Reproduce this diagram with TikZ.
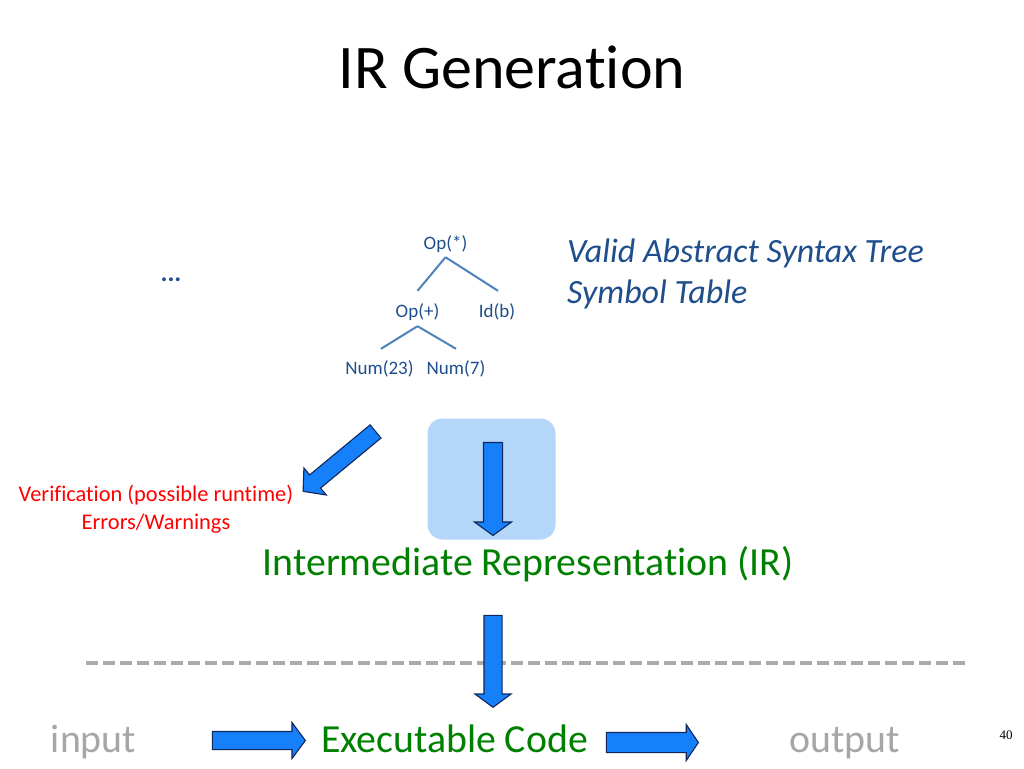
\documentclass[tikz,border=0pt]{standalone}
\usepackage{fontspec}
\setmainfont{Carlito}[Ligatures=NoCommon]
\newfontfamily\numfont{Liberation Serif}
\usetikzlibrary{shapes.arrows}
\definecolor{arrowfill}{RGB}{22,128,250}
\definecolor{arrowline}{RGB}{16,40,90}
\definecolor{lightbox}{RGB}{180,215,249}
\definecolor{treeblue}{RGB}{31,78,140}
\definecolor{treeline}{RGB}{79,129,189}
\definecolor{codegreen}{RGB}{0,128,0}
\definecolor{graytext}{RGB}{166,166,166}
\definecolor{dashgray}{RGB}{171,171,171}
\tikzset{
  blockarrow/.style={single arrow, draw=arrowline, fill=arrowfill, line width=1.1pt,
    inner xsep=0pt, single arrow head indent=0pt, anchor=center},
  treetext/.style={anchor=base, inner sep=0pt, text height=14pt, text depth=5pt,
    text=treeblue, font=\fontsize{19}{22}\selectfont},
  treeedge/.style={draw=treeline, line width=2pt},
  bigtext/.style={anchor=base, inner sep=0pt, font=\fontsize{39.8}{46}\selectfont},
}
\begin{document}
\begin{tikzpicture}[x=1pt,y=-1pt]
\useasboundingbox (0,0) rectangle (1024,768);
\fill[white] (0,0) rectangle (1024,768);

% title
\node[anchor=base, inner sep=0pt, font=\fontsize{62}{70}\selectfont] (title) at (512,88) {IR Generation};

% ellipsis
\node[anchor=base, inner sep=0pt, text=treeblue, font=\fontsize{26}{28}\selectfont\bfseries] (dots) at (171,281) {...};

% tree
\node[treetext] (opm) at (445.5,249) {Op(*)};
\node[treetext] (opp) at (417.5,317) {Op(+)};
\node[treetext] (idb) at (497,317) {Id(b)};
\node[treetext] (n23) at (379.5,374) {Num(23)};
\node[treetext] (n7) at (456,374) {Num(7)};
\draw[treeedge] ([yshift=-3pt]opm.south) -- ([yshift=12pt]opp.north);
\draw[treeedge] ([yshift=-3pt]opm.south) -- ([yshift=12pt,xshift=1pt]idb.north);
\draw[treeedge] ([yshift=-4pt]opp.south) -- ([yshift=11pt,xshift=1.5pt]n23.north);
\draw[treeedge] ([yshift=-4pt]opp.south) -- ([yshift=11pt]n7.north);

% Valid AST text
\node[anchor=base west, inner sep=0pt, text=treeblue,
  font=\fontsize{34}{36}\selectfont\itshape] (valid) at (567,262) {Valid Abstract Syntax Tree};
\node[anchor=base west, inner sep=0pt, text=treeblue,
  font=\fontsize{34}{36}\selectfont\itshape] (symtab) at (567,303) {Symbol Table};

% light box with arrow
\node[draw=none, fill=lightbox, rounded corners=15pt, minimum width=128pt, minimum height=121pt,
  inner sep=0pt] (lbox) at (491.5,479) {};
\node[blockarrow, rotate=-90, minimum height=93pt, inner ysep=9pt,
  single arrow head extend=9pt, single arrow tip angle=108] (a1) at (493,485.5) {};

% diagonal arrow
\node[blockarrow, rotate=219.6, minimum height=94pt, inner ysep=8pt,
  single arrow head extend=9pt, single arrow tip angle=97] (a5) at (342.25,459) {};

% verification text
\node[anchor=base, inner sep=0pt, text=red, font=\fontsize{22.4}{29}\selectfont] (verif) at (156,501.5) {Verification (possible runtime)};
\node[anchor=base, inner sep=0pt, text=red, font=\fontsize{22.4}{29}\selectfont] (errs) at (156,529.5) {Errors/Warnings};

% IR text
\node[bigtext, text=codegreen] (ir) at (528,575) {Intermediate Representation (IR)};

% dashed line
\coordinate (dl) at (86,663);
\coordinate (dr) at (968,663);
\draw[dashgray, line width=4pt, dash pattern=on 11.5pt off 5.5pt] (dl) -- (dr);

% arrow IR -> exec (on top of dashed line)
\node[blockarrow, rotate=-90, minimum height=92pt, inner ysep=8.5pt,
  single arrow head extend=9pt, single arrow tip angle=107] (a2) at (493,658) {};

% bottom row
\node[bigtext, text=graytext] (input) at (93.5,752) {input};
\node[bigtext, text=codegreen] (exec) at (454.5,752) {Executable Code};
\node[bigtext, text=graytext] (output) at (844.5,752) {output};
\node[blockarrow, minimum height=93pt, inner ysep=8.5pt,
  single arrow head extend=9pt, single arrow tip angle=107] (a3) at (255.5,740.5) {};
\node[blockarrow, minimum height=92pt, inner ysep=9.5pt,
  single arrow head extend=8pt, single arrow tip angle=112] (a4) at (649,742.5) {};

% page number
\node[anchor=base, inner sep=0pt, font=\numfont\fontsize{13}{15}\selectfont] (pnum) at (1006,739) {40};
\end{tikzpicture}
\end{document}
